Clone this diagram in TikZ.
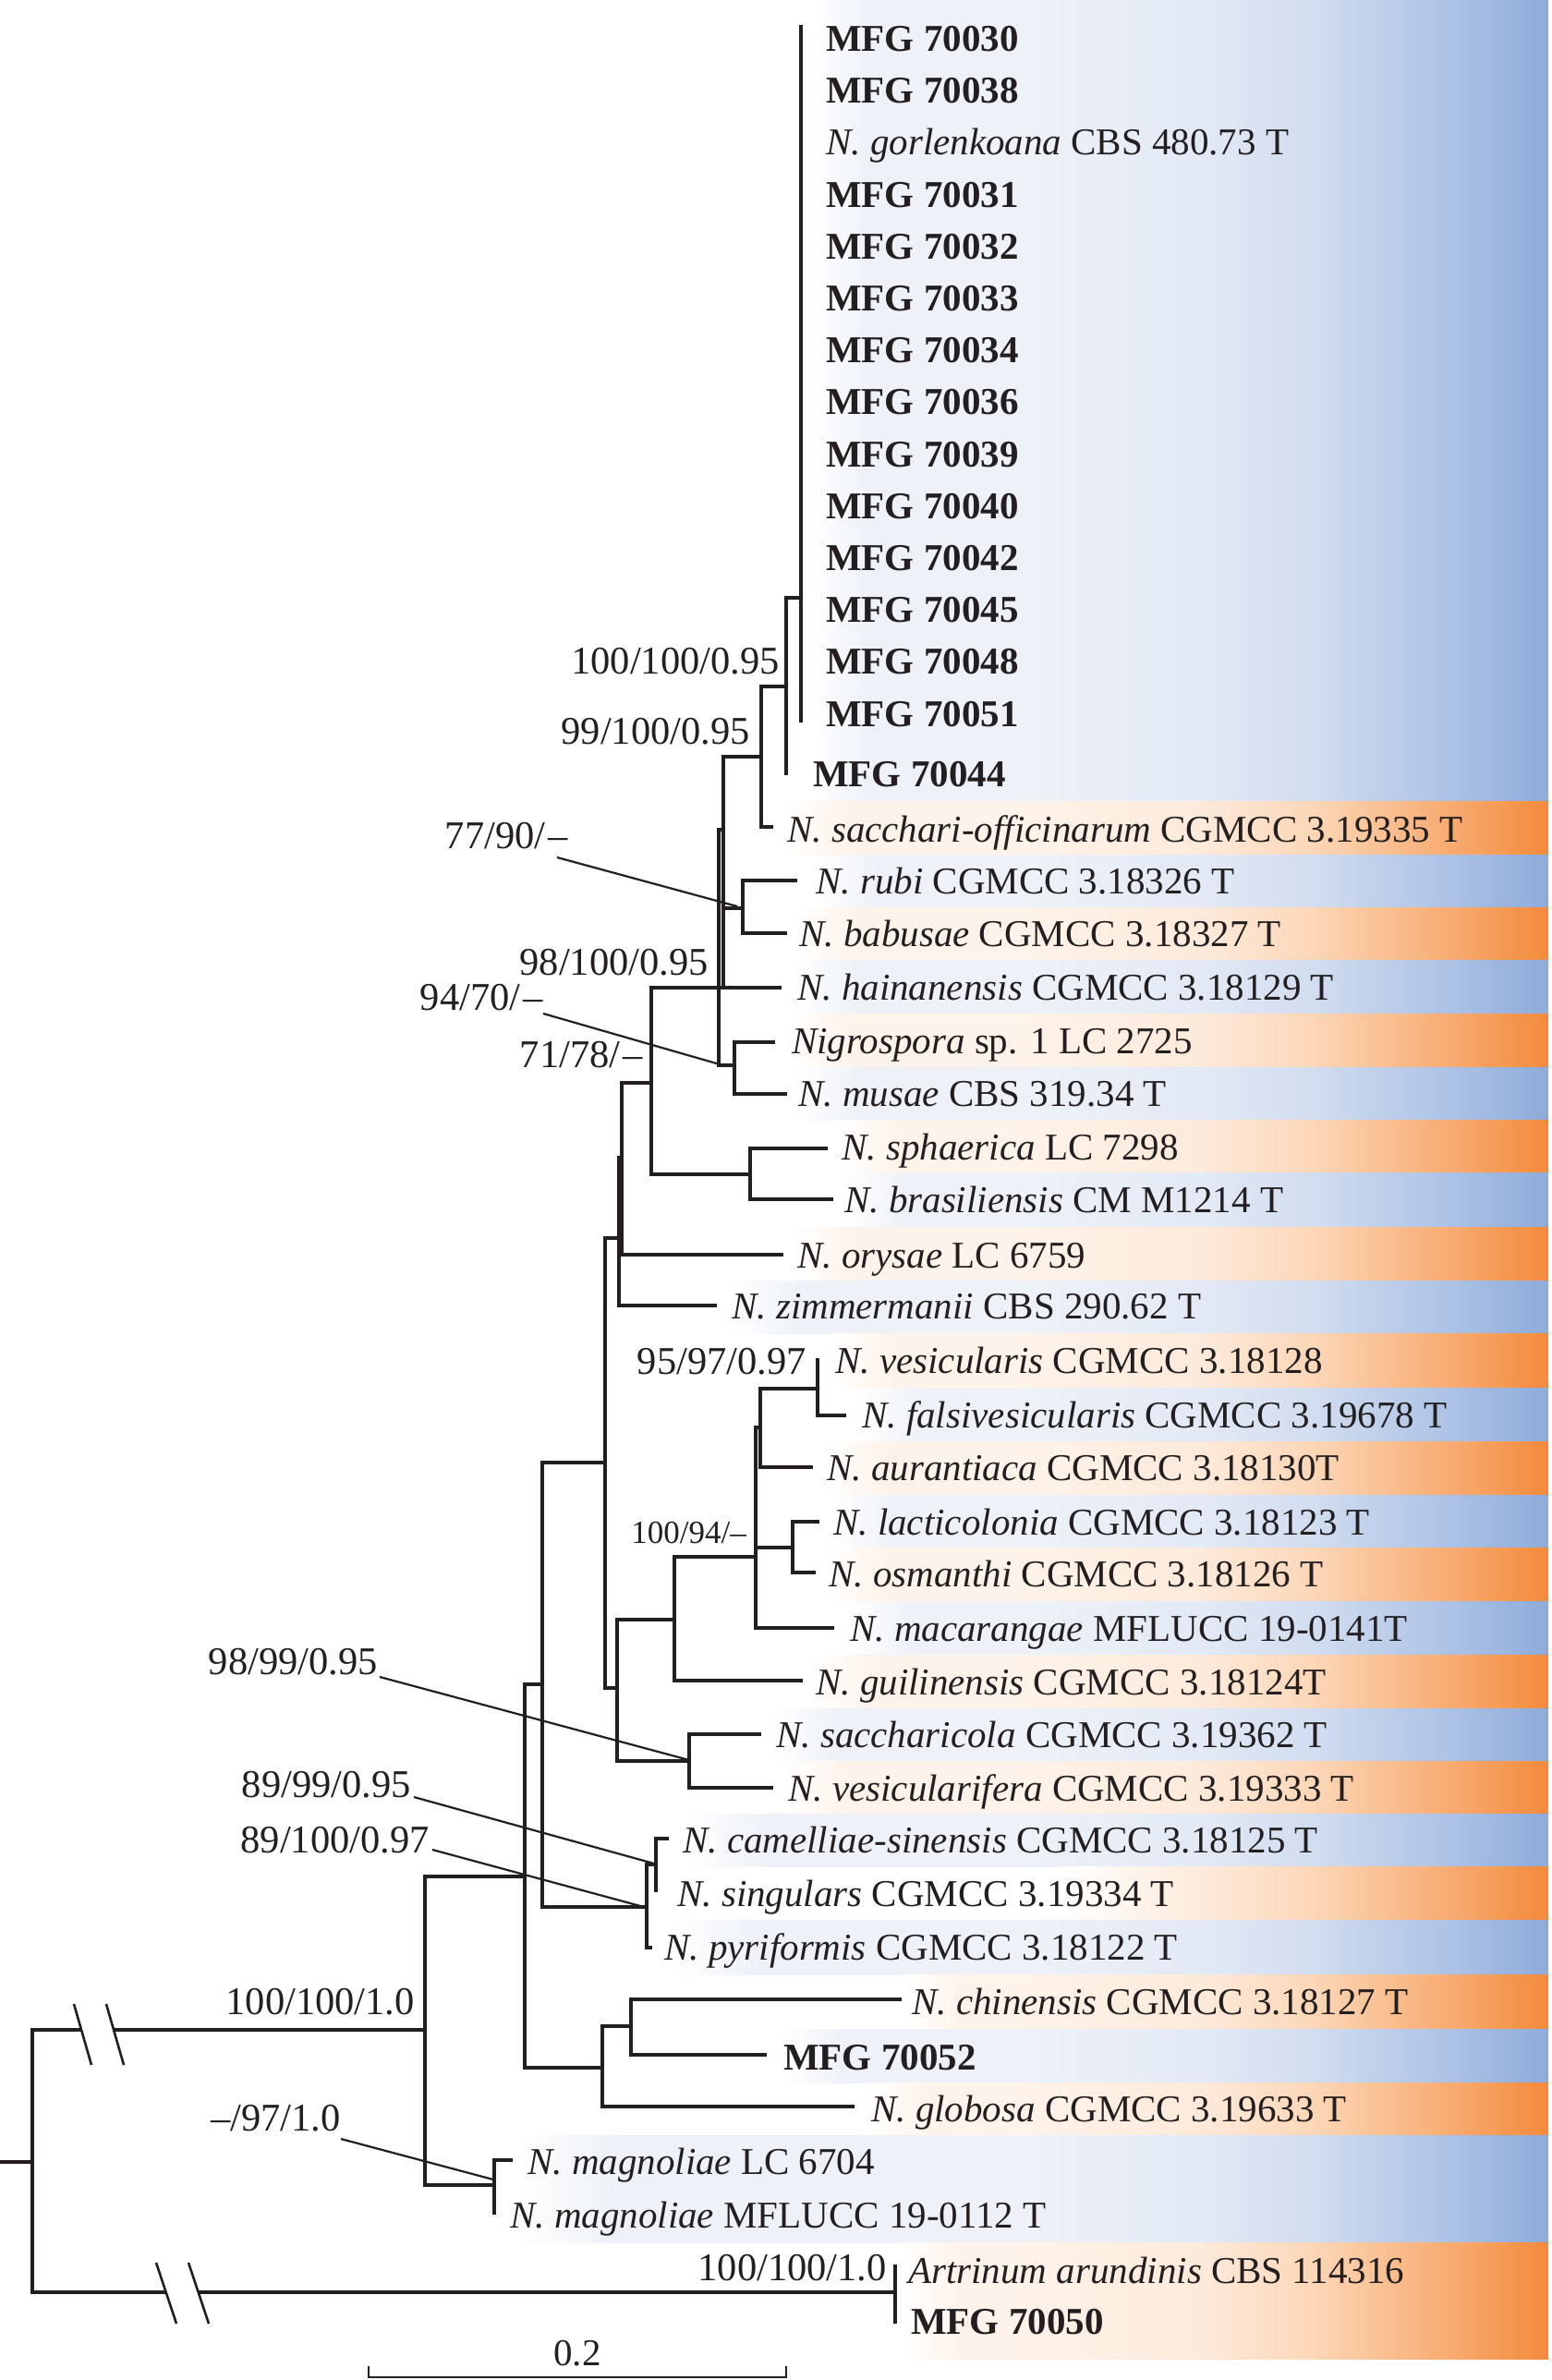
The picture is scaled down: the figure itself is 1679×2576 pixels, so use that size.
\documentclass[tikz,border=0pt]{standalone}
\usepackage{fontspec}
\setmainfont{Liberation Serif}
\definecolor{ink}{HTML}{231F20}
\definecolor{bpale}{HTML}{EEF2F8}
\definecolor{bmidA}{HTML}{E3E9F5}
\definecolor{bmidB}{HTML}{D2DDF0}
\definecolor{bmidC}{HTML}{AAC0E4}
\definecolor{bdark}{HTML}{8DABDA}
\definecolor{opale}{HTML}{FEF3EA}
\definecolor{omidA}{HTML}{FDEADB}
\definecolor{omidB}{HTML}{FCD7B8}
\definecolor{omidC}{HTML}{F7A86C}
\definecolor{odark}{HTML}{F38A3B}
\pgfdeclarehorizontalshading{blueband}{100bp}{color(0bp)=(bpale); color(50.5bp)=(bpale); color(59bp)=(bmidA); color(64.1bp)=(bmidB); color(70.9bp)=(bmidC); color(75bp)=(bdark); color(100bp)=(bdark)}
\pgfdeclarehorizontalshading{orangeband}{100bp}{color(0bp)=(opale); color(50.5bp)=(opale); color(59bp)=(omidA); color(64.1bp)=(omidB); color(70.9bp)=(omidC); color(75bp)=(odark); color(100bp)=(odark)}
\newcommand\bandrow[6]{%
  \begin{scope}
    \clip (#2,#3) rectangle (1677,#4);
    \shade[shading=#1] (500,#3) rectangle (1676,#4);
  \end{scope}
  \shade[left color=white, right color=#5] (#2,#3) rectangle ({#2+#6},#4);
}
\begin{document}
\begin{tikzpicture}[x=1pt,y=-1pt,
  br/.style={draw=ink, line width=4.6pt},
  ptr/.style={draw=ink, line width=2.2pt},
  brk/.style={draw=ink, line width=2.6pt},
  lab/.style={anchor=base west, inner sep=0pt, text=ink, font=\fontsize{41}{49}\selectfont},
  sup/.style={anchor=base east, inner sep=0pt, text=ink, font=\fontsize{42.5}{50}\selectfont},
  supsmall/.style={anchor=base east, inner sep=0pt, text=ink, font=\fontsize{35}{42}\selectfont}]
\useasboundingbox (0,0) rectangle (1679,2576);

% ---------- coloured bands ----------
\bandrow{blueband}{878}{0}{867}{bpale}{60}
\bandrow{orangeband}{848}{867}{925}{opale}{70}
\bandrow{blueband}{878}{925}{982}{bpale}{70}
\bandrow{orangeband}{860}{982}{1039}{opale}{70}
\bandrow{blueband}{858}{1039}{1097}{bpale}{70}
\bandrow{orangeband}{852}{1097}{1155}{opale}{70}
\bandrow{blueband}{859}{1155}{1212}{bpale}{70}
\bandrow{orangeband}{906}{1212}{1269}{opale}{70}
\bandrow{blueband}{909}{1269}{1328}{bpale}{70}
\bandrow{orangeband}{858}{1328}{1386}{opale}{70}
\bandrow{blueband}{787}{1386}{1443}{bpale}{80}
\bandrow{orangeband}{899}{1443}{1502}{opale}{70}
\bandrow{blueband}{928}{1502}{1560}{bpale}{70}
\bandrow{orangeband}{890}{1560}{1618}{opale}{70}
\bandrow{blueband}{897}{1618}{1675}{bpale}{70}
\bandrow{orangeband}{892}{1675}{1733}{opale}{70}
\bandrow{blueband}{915}{1733}{1791}{bpale}{70}
\bandrow{orangeband}{878}{1791}{1849}{opale}{70}
\bandrow{blueband}{835}{1849}{1906}{bpale}{70}
\bandrow{orangeband}{848}{1906}{1963}{opale}{70}
\bandrow{blueband}{740}{1963}{2020}{bpale}{90}
\bandrow{orangeband}{1150}{2020}{2078}{omidA}{150}
\bandrow{blueband}{725}{2078}{2137}{bpale}{90}
\bandrow{orangeband}{980}{2137}{2196}{opale}{60}
\bandrow{blueband}{843}{2196}{2254}{bpale}{70}
\bandrow{orangeband}{938}{2254}{2311}{opale}{70}
\bandrow{blueband}{560}{2311}{2427}{bpale}{100}
\bandrow{orangeband}{972}{2427}{2553}{opale}{70}

% ---------- tree coordinates ----------
\coordinate (rootstub) at (0,2340);
\coordinate (root) at (35,2340);
\coordinate (N) at (460,2197);
\coordinate (OUT) at (969,2481);
\coordinate (e43) at (969,2451);
\coordinate (e44) at (969,2515);
\coordinate (M) at (568,2031);
\coordinate (R) at (535,2365);
\coordinate (e41) at (555,2338);
\coordinate (e42) at (535,2397);
\coordinate (L) at (587,1823);
\coordinate (P) at (652,2238);
\coordinate (Q) at (683,2193);
\coordinate (e38) at (976,2164);
\coordinate (e39) at (830,2224);
\coordinate (e40) at (925,2280);
\coordinate (H) at (655,1583);
\coordinate (O) at (700,2064);
\coordinate (CS) at (710,2018);
\coordinate (e35) at (724,1990);
\coordinate (e36) at (710,2048);
\coordinate (e37) at (706,2108);
\coordinate (C) at (670,1340);
\coordinate (I) at (668,1827);
\coordinate (D) at (673,1253);
\coordinate (e25) at (776,1413);
\coordinate (E) at (705,1172);
\coordinate (e24) at (848,1358);
\coordinate (F) at (778,1069);
\coordinate (e19) at (846,1069);
\coordinate (A) at (783,898);
\coordinate (A2) at (783,1069);
\coordinate (NM) at (795,1153);
\coordinate (e20) at (839,1128);
\coordinate (e21) at (852,1184);
\coordinate (S) at (812,1271);
\coordinate (e22) at (896,1243);
\coordinate (e23) at (902,1298);
\coordinate (RB) at (804,983);
\coordinate (e17) at (863,953);
\coordinate (e18) at (852,1010);
\coordinate (T99) at (824,819);
\coordinate (T100) at (851,743);
\coordinate (e16) at (837,895);
\coordinate (e15) at (851,839);
\coordinate (TC) at (867,647);
\coordinate (topA) at (867,27);
\coordinate (topB) at (867,782);
\coordinate (G2) at (730,1753);
\coordinate (SV) at (746,1906);
\coordinate (K) at (818,1685);
\coordinate (e32) at (869,1819);
\coordinate (J) at (823,1545);
\coordinate (LO) at (858,1675);
\coordinate (e31) at (903,1762);
\coordinate (VF) at (885,1503);
\coordinate (e28) at (880,1588);
\coordinate (e26) at (885,1470);
\coordinate (e27) at (916,1532);
\coordinate (e29) at (887,1647);
\coordinate (e30) at (883,1702);
\coordinate (e33) at (824,1877);
\coordinate (e34) at (837,1935);

% ---------- branches ----------
\draw[br] (rootstub) -- (root);
\draw[br] (root) |- (N);
\draw[br] (root) |- (OUT);
\draw[br] (OUT) |- (e43);
\draw[br] (OUT) |- (e44);
\draw[br] (N) |- (M);
\draw[br] (N) |- (R);
\draw[br] (R) |- (e41);
\draw[br] (R) |- (e42);
\draw[br] (M) |- (L);
\draw[br] (M) |- (P);
\draw[br] (P) |- (Q);
\draw[br] (P) |- (e40);
\draw[br] (Q) |- (e38);
\draw[br] (Q) |- (e39);
\draw[br] (L) |- (H);
\draw[br] (L) |- (O);
\draw[br] (O) |- (CS);
\draw[br] (O) |- (e37);
\draw[br] (CS) |- (e35);
\draw[br] (CS) |- (e36);
\draw[br] (H) |- (C);
\draw[br] (H) |- (I);
\draw[br] (C) |- (D);
\draw[br] (C) |- (e25);
\draw[br] (D) |- (E);
\draw[br] (D) |- (e24);
\draw[br] (E) |- (F);
\draw[br] (E) |- (S);
\draw[br] (F) -- (e19);
\draw[br] (F) |- (A);
\draw[br] (F) |- (NM);
\draw[br] (A) -- (A2);
\draw[br] (A) |- (T99);
\draw[br] (A) |- (RB);
\draw[br] (RB) |- (e17);
\draw[br] (RB) |- (e18);
\draw[br] (NM) |- (e20);
\draw[br] (NM) |- (e21);
\draw[br] (S) |- (e22);
\draw[br] (S) |- (e23);
\draw[br] (T99) |- (T100);
\draw[br] (T99) |- (e16);
\draw[br] (T100) |- (TC);
\draw[br] (T100) |- (e15);
\draw[br] (TC) |- (topA);
\draw[br] (TC) |- (topB);
\draw[br] (I) |- (G2);
\draw[br] (I) |- (SV);
\draw[br] (G2) |- (K);
\draw[br] (G2) |- (e32);
\draw[br] (K) |- (J);
\draw[br] (K) |- (LO);
\draw[br] (K) |- (e31);
\draw[br] (J) |- (VF);
\draw[br] (J) |- (e28);
\draw[br] (VF) |- (e26);
\draw[br] (VF) |- (e27);
\draw[br] (LO) |- (e29);
\draw[br] (LO) |- (e30);
\draw[br] (SV) |- (e33);
\draw[br] (SV) |- (e34);

% ---------- branch breaks ----------
\coordinate (bk1a) at (80,2169);  \coordinate (bk1b) at (99,2235);
\coordinate (bk2a) at (115,2169); \coordinate (bk2b) at (134,2235);
\coordinate (bk3a) at (169,2449); \coordinate (bk3b) at (191,2515);
\coordinate (bk4a) at (204,2449); \coordinate (bk4b) at (226,2515);
\fill[white] (bk1a) -- (bk2a) -- (bk2b) -- (bk1b) -- cycle;
\fill[white] (bk3a) -- (bk4a) -- (bk4b) -- (bk3b) -- cycle;
\draw[brk] (bk1a) -- (bk1b);
\draw[brk] (bk2a) -- (bk2b);
\draw[brk] (bk3a) -- (bk3b);
\draw[brk] (bk4a) -- (bk4b);

% ---------- scale bar ----------
\coordinate (sbL) at (399,2573); \coordinate (sbR) at (851,2573);
\coordinate (sbLt) at (399,2561); \coordinate (sbRt) at (851,2561);
\draw[draw=ink, line width=2pt] (sbLt) -- (sbL) -- (sbR) -- (sbRt);
\node[lab, anchor=base] (sbtxt) at (625,2560) {0.2};

% ---------- support values ----------
\node[sup] (s1) at (844,729) {100/100/0.95};
\node[sup] (s2) at (812,805) {99/100/0.95};
\node[sup] (s3) at (615,918) {77/90/\kern3pt–};
\node[sup] (s4) at (767,1055) {98/100/0.95};
\node[sup] (s5) at (588,1093) {94/70/\kern3pt–};
\node[sup] (s6) at (696,1155) {71/78/\kern3pt–};
\node[sup] (s7) at (873,1487) {95/97/0.97};
\node[supsmall] (s8) at (808,1670) {100/94/–};
\node[sup] (s9) at (409,1812) {98/99/0.95};
\node[sup] (s10) at (445,1945) {89/99/0.95};
\node[sup] (s11) at (465,2005) {89/100/0.97};
\node[sup] (s12) at (449,2180) {100/100/1.0};
\node[sup] (s13) at (369,2306) {–/97/1.0};
\node[sup] (s14) at (960,2468) {100/100/1.0};

% ---------- pointer lines ----------
\coordinate (p1s) at (603,928);  \coordinate (p1e) at (798,981);
\coordinate (p2s) at (588,1097); \coordinate (p2e) at (779,1152);
\coordinate (p3s) at (411,1815); \coordinate (p3e) at (746,1905);
\coordinate (p4s) at (448,1945); \coordinate (p4e) at (708,2017);
\coordinate (p5s) at (468,2002); \coordinate (p5e) at (697,2064);
\coordinate (p6s) at (369,2315); \coordinate (p6e) at (534,2359);
\draw[ptr] (p1s) -- (p1e);
\draw[ptr] (p2s) -- (p2e);
\draw[ptr] (p3s) -- (p3e);
\draw[ptr] (p4s) -- (p4e);
\draw[ptr] (p5s) -- (p5e);
\draw[ptr] (p6s) -- (p6e);

% ---------- taxon labels ----------
\node[lab] (t01) at (894,55) {\textbf{MFG 70030}};
\node[lab] (t02) at (894,111) {\textbf{MFG 70038}};
\node[lab] (t03) at (894,167) {\textit{N. gorlenkoana} CBS 480.73 T};
\node[lab] (t04) at (894,224) {\textbf{MFG 70031}};
\node[lab] (t05) at (894,280) {\textbf{MFG 70032}};
\node[lab] (t06) at (894,336) {\textbf{MFG 70033}};
\node[lab] (t07) at (894,392) {\textbf{MFG 70034}};
\node[lab] (t08) at (894,448) {\textbf{MFG 70036}};
\node[lab] (t09) at (894,505) {\textbf{MFG 70039}};
\node[lab] (t10) at (894,561) {\textbf{MFG 70040}};
\node[lab] (t11) at (894,617) {\textbf{MFG 70042}};
\node[lab] (t12) at (894,673) {\textbf{MFG 70045}};
\node[lab] (t13) at (894,729) {\textbf{MFG 70048}};
\node[lab] (t14) at (894,786) {\textbf{MFG 70051}};
\node[lab] (t15) at (880,851) {\textbf{MFG 70044}};
\node[lab] (t16) at (852,911) {\textit{N. sacchari-officinarum} CGMCC 3.19335 T};
\node[lab] (t17) at (883,967) {\textit{N. rubi} CGMCC 3.18326 T};
\node[lab] (t18) at (865,1024) {\textit{N. babusae} CGMCC 3.18327 T};
\node[lab] (t19) at (863,1082) {\textit{N. hainanensis} CGMCC 3.18129 T};
\node[lab] (t20) at (857,1140) {\textit{Nigrospora} sp. 1 LC 2725};
\node[lab] (t21) at (864,1197) {\textit{N. musae} CBS 319.34 T};
\node[lab] (t22) at (911,1255) {\textit{N. sphaerica} LC 7298};
\node[lab] (t23) at (914,1312) {\textit{N. brasiliensis} CM M1214 T};
\node[lab] (t24) at (863,1372) {\textit{N. orysae} LC 6759};
\node[lab] (t25) at (792,1427) {\textit{N. zimmermanii} CBS 290.62 T};
\node[lab] (t26) at (904,1486) {\textit{N. vesicularis} CGMCC 3.18128};
\node[lab] (t27) at (933,1545) {\textit{N. falsivesicularis} CGMCC 3.19678 T};
\node[lab] (t28) at (895,1602) {\textit{N. aurantiaca} CGMCC 3.18130T};
\node[lab] (t29) at (902,1661) {\textit{N. lacticolonia} CGMCC 3.18123 T};
\node[lab] (t30) at (897,1717) {\textit{N. osmanthi} CGMCC 3.18126 T};
\node[lab] (t31) at (920,1776) {\textit{N. macarangae} MFLUCC 19-0141T};
\node[lab] (t32) at (883,1834) {\textit{N. guilinensis} CGMCC 3.18124T};
\node[lab] (t33) at (840,1891) {\textit{N. saccharicola} CGMCC 3.19362 T};
\node[lab] (t34) at (853,1949) {\textit{N. vesicularifera} CGMCC 3.19333 T};
\node[lab] (t35) at (739,2005) {\textit{N. camelliae-sinensis} CGMCC 3.18125 T};
\node[lab] (t36) at (733,2063) {\textit{N. singulars} CGMCC 3.19334 T};
\node[lab] (t37) at (719,2121) {\textit{N. pyriformis} CGMCC 3.18122 T};
\node[lab] (t38) at (987,2180) {\textit{N. chinensis} CGMCC 3.18127 T};
\node[lab] (t39) at (848,2240) {\textbf{MFG 70052}};
\node[lab] (t40) at (943,2296) {\textit{N. globosa} CGMCC 3.19633 T};
\node[lab] (t41) at (571,2353) {\textit{N. magnoliae} LC 6704};
\node[lab] (t42) at (552,2411) {\textit{N. magnoliae} MFLUCC 19-0112 T};
\node[lab] (t43) at (983,2471) {\textit{Artrinum arundinis} CBS 114316};
\node[lab] (t44) at (986,2526) {\textbf{MFG 70050}};
\end{tikzpicture}
\end{document}
